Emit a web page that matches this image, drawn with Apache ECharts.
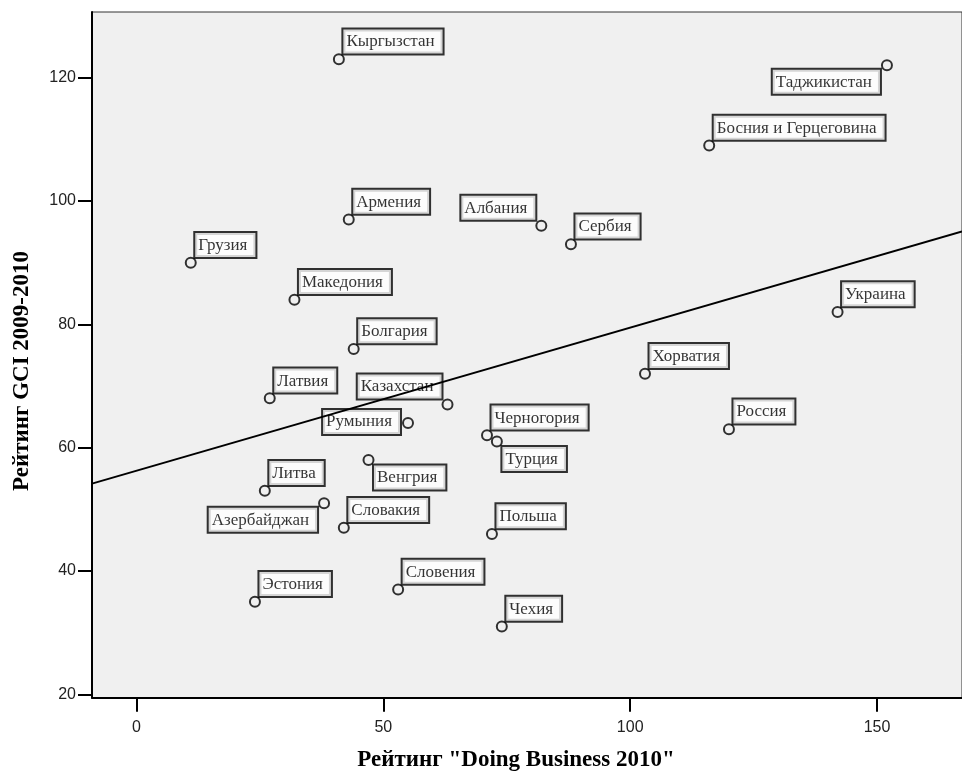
<!DOCTYPE html>
<html>
<head>
<meta charset="utf-8">
<script src="https://cdn.jsdelivr.net/npm/echarts@6/dist/echarts.min.js"></script>
<style>
  html, body { margin: 0; padding: 0; background: #ffffff; }
  #chart { width: 962px; height: 774px; }
</style>
</head>
<body>
<div id="chart"></div>
<script>
// Countries with their "Doing Business 2010" rank and GCI 2009-2010 rank
const countries = [
  'Кыргызстан', 'Армения', 'Албания', 'Сербия', 'Грузия', 'Македония',
  'Болгария', 'Латвия', 'Казахстан', 'Румыния', 'Литва', 'Венгрия',
  'Азербайджан', 'Словакия', 'Эстония', 'Словения', 'Черногория', 'Турция',
  'Польша', 'Чехия', 'Босния и Герцеговина', 'Украина', 'Хорватия', 'Россия',
  'Таджикистан'
];
const doingBusiness = [
  41, 43, 82, 88, 11, 32,
  44, 27, 63, 55, 26, 47,
  38, 42, 24, 53, 71, 73,
  72, 74, 116, 142, 103, 120,
  152
];
const gciRank = [
  123, 97, 96, 93, 90, 84,
  76, 68, 67, 64, 53, 58,
  51, 47, 35, 37, 62, 61,
  46, 31, 109, 82, 72, 63,
  122
];

const xTicks = [0, 50, 100, 150];
const yTicks = [20, 40, 60, 80, 100, 120];

const xTitle = 'Рейтинг "Doing Business 2010"';
const yTitle = 'Рейтинг GCI 2009-2010';

// Where each country's name box sits relative to its marker (default: upper right)
const labelSide = {
  'Албания': 'ul',
  'Казахстан': 'ul',
  'Румыния': 'l',
  'Венгрия': 'lr',
  'Турция': 'lr',
  'Азербайджан': 'll',
  'Таджикистан': 'll'
};

const X_MIN = -9, X_MAX = 167.2;
const Y_MIN = 19.45, Y_MAX = 130.65;

// Ordinary least-squares fit of GCI rank on Doing Business rank
function linearFit(xs, ys) {
  const n = xs.length;
  const mx = xs.reduce((a, b) => a + b, 0) / n;
  const my = ys.reduce((a, b) => a + b, 0) / n;
  let sxy = 0, sxx = 0;
  for (let i = 0; i < n; i++) {
    sxy += (xs[i] - mx) * (ys[i] - my);
    sxx += (xs[i] - mx) * (xs[i] - mx);
  }
  const slope = sxy / sxx;
  return { slope, intercept: my - slope * mx };
}
const fit = linearFit(doingBusiness, gciRank);
const fitLine = [X_MIN, X_MAX].map(x => [x, fit.intercept + fit.slope * x]);

function labelFor(name) {
  const side = labelSide[name] || 'ur';
  switch (side) {
    case 'ul': return { position: [0, 0], align: 'right', verticalAlign: 'bottom' };
    case 'l':  return { position: [-2, 5], align: 'right', verticalAlign: 'middle' };
    case 'lr': return { position: [11.5, 11.5], align: 'left', verticalAlign: 'top' };
    case 'll': return { position: [-1, 10.5], align: 'right', verticalAlign: 'top' };
    default:   return { position: [10.5, 0.3], align: 'left', verticalAlign: 'bottom' };
  }
}

const points = countries.map((name, i) => ({
  name,
  value: [doingBusiness[i], gciRank[i]],
  label: labelFor(name)
}));

const chart = echarts.init(document.getElementById('chart'), null, { renderer: 'canvas' });

chart.setOption({
  animation: false,
  backgroundColor: '#ffffff',
  grid: {
    left: 92, right: 0, top: 12, bottom: 76.3,
    show: true,
    backgroundColor: '#F0F0F0',
    borderColor: '#333333',
    borderWidth: 1
  },
  xAxis: {
    type: 'value',
    min: X_MIN, max: X_MAX,
    splitLine: { show: false },
    axisLine: { show: true, onZero: false, lineStyle: { color: '#000', width: 2 } },
    axisTick: { show: true, length: 14, customValues: xTicks, lineStyle: { color: '#000', width: 2 } },
    axisLabel: {
      customValues: xTicks, margin: 22,
      fontFamily: 'Liberation Sans', fontSize: 16, color: '#222'
    }
  },
  yAxis: {
    type: 'value',
    min: Y_MIN, max: Y_MAX,
    splitLine: { show: false },
    axisLine: { show: true, onZero: false, lineStyle: { color: '#000', width: 2 } },
    axisTick: { show: true, length: 14, customValues: yTicks, lineStyle: { color: '#000', width: 2 } },
    axisLabel: {
      customValues: yTicks, margin: 16,
      fontFamily: 'Liberation Sans', fontSize: 16, color: '#222'
    }
  },
  graphic: [
    {
      type: 'text', x: 516, y: 760, z: 10,
      style: {
        text: xTitle, align: 'center', verticalAlign: 'middle',
        font: 'bold 23px "Liberation Serif"', fill: '#000'
      }
    },
    {
      type: 'text', x: 22, y: 371, rotation: Math.PI / 2, z: 10,
      style: {
        text: yTitle, align: 'center', verticalAlign: 'middle',
        font: 'bold 23px "Liberation Serif"', fill: '#000'
      }
    }
  ],
  series: [
    {
      type: 'scatter',
      z: 2,
      data: points,
      symbol: 'circle',
      symbolSize: 10,
      itemStyle: { color: 'rgba(0,0,0,0)', borderColor: '#000', borderWidth: 2 },
      label: {
        show: true,
        formatter: p => p.name,
        fontFamily: 'Liberation Serif',
        fontSize: 17,
        lineHeight: 17,
        color: '#000',
        backgroundColor: '#ffffff',
        borderColor: '#000',
        borderWidth: 2,
        padding: [4, 8, 3, 3]
      },
      emphasis: { disabled: true }
    },
    {
      type: 'line',
      z: 5,
      data: fitLine,
      symbol: 'none',
      lineStyle: { color: '#000', width: 2 },
      clip: true,
      emphasis: { disabled: true }
    }
  ]
});
</script>
</body>
</html>
